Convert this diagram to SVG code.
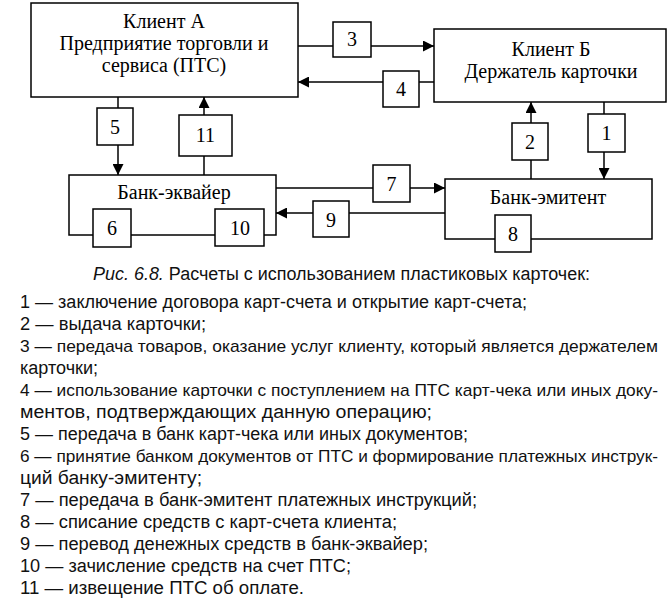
<svg xmlns="http://www.w3.org/2000/svg" width="671" height="600" viewBox="0 0 671 600">
<style>
.box{fill:#fff;stroke:#000;stroke-width:1.5}
.ln{fill:none;stroke:#000;stroke-width:1.5}
.arr{fill:none;stroke:#000;stroke-width:1.5;marker-end:url(#ah)}
.t{font-family:"Liberation Serif","Times New Roman",serif;font-size:20px;fill:#000;text-anchor:middle}
.n{font-family:"Liberation Serif","Times New Roman",serif;font-size:20px;fill:#000;text-anchor:middle}
.c{font-family:"Liberation Sans",Arial,sans-serif;font-size:18px;fill:#111}
.w{font-size:17px}
</style>
<defs>
<marker id="ah" viewBox="0 0 10 10" refX="10" refY="5" markerWidth="11" markerHeight="11" markerUnits="userSpaceOnUse" orient="auto">
<path d="M0,0 L10,5 L0,10 z" fill="#000"/>
</marker>
</defs>
<rect width="671" height="600" fill="#fff"/>

<g id="connectors">
<path class="ln" d="M298,46 H333"/>
<path class="arr" d="M371,46 H434"/>
<path class="ln" d="M434,82 H419"/>
<path class="arr" d="M383,82 H298"/>
<path class="ln" d="M118,97 V108"/>
<path class="arr" d="M118,145 V175"/>
<path class="ln" d="M204,175 V156"/>
<path class="arr" d="M204,115 V97"/>
<path class="ln" d="M276,188 H373"/>
<path class="arr" d="M410,188 H445"/>
<path class="ln" d="M445,213 H349"/>
<path class="arr" d="M313,213 H276"/>
<path class="ln" d="M531,179 V160"/>
<path class="arr" d="M531,123 V102"/>
<path class="ln" d="M604,102 V114"/>
<path class="arr" d="M604,152 V179"/>
</g>

<g id="clientA">
<rect class="box" x="31" y="3" width="267" height="94"/>
<text class="t" x="164" y="28">Клиент А</text>
<text class="t" x="164" y="50">Предприятие торговли и</text>
<text class="t" x="164" y="72">сервиса  (ПТС)</text>
</g>

<g id="clientB">
<rect class="box" x="434" y="29" width="232" height="73"/>
<text class="t" x="551" y="56">Клиент Б</text>
<text class="t" x="551" y="78">Держатель карточки</text>
</g>

<g id="bankAcq">
<rect class="box" x="69" y="175" width="207" height="60"/>
<text class="t" x="174" y="199">Банк-эквайер</text>
</g>

<g id="bankEm">
<rect class="box" x="445" y="179" width="207" height="60"/>
<text class="t" x="548" y="204">Банк-эмитент</text>
</g>

<g id="n1"><rect class="box" x="588" y="114" width="37" height="38"/><text class="n" x="606.5" y="140">1</text></g>
<g id="n2"><rect class="box" x="512" y="123" width="36" height="37"/><text class="n" x="530" y="149">2</text></g>
<g id="n3"><rect class="box" x="333" y="22" width="38" height="35"/><text class="n" x="352" y="46">3</text></g>
<g id="n4"><rect class="box" x="383" y="71" width="36" height="36"/><text class="n" x="401" y="96">4</text></g>
<g id="n5"><rect class="box" x="97" y="108" width="36" height="37"/><text class="n" x="115" y="134">5</text></g>
<g id="n6"><rect class="box" x="93" y="209" width="38" height="38"/><text class="n" x="112" y="235">6</text></g>
<g id="n7"><rect class="box" x="373" y="165" width="37" height="37"/><text class="n" x="391.5" y="191">7</text></g>
<g id="n8"><rect class="box" x="495" y="215" width="36" height="37"/><text class="n" x="513" y="241">8</text></g>
<g id="n9"><rect class="box" x="313" y="201" width="36" height="36"/><text class="n" x="331" y="227">9</text></g>
<g id="n10"><rect class="box" x="215" y="209" width="49" height="37"/><text class="n" x="240" y="235">10</text></g>
<g id="n11"><rect class="box" x="179" y="115" width="53" height="41"/><text class="n" x="205.5" y="142">11</text></g>

<g id="legend">
<text class="c" x="93" y="280" textLength="497" lengthAdjust="spacingAndGlyphs"><tspan font-style="italic">Рис. 6.8.</tspan> Расчеты с использованием пластиковых карточек:</text>
<text class="c" x="20" y="308" textLength="507" lengthAdjust="spacingAndGlyphs">1 — заключение договора карт-счета и открытие карт-счета;</text>
<text class="c" x="20" y="330" textLength="186" lengthAdjust="spacingAndGlyphs">2 — выдача карточки;</text>
<text class="c w" x="20" y="352" textLength="638" lengthAdjust="spacingAndGlyphs">3 — передача товаров, оказание услуг клиенту, который является держателем</text>
<text class="c" x="20" y="374" textLength="78" lengthAdjust="spacingAndGlyphs">карточки;</text>
<text class="c w" x="20" y="396" textLength="638" lengthAdjust="spacingAndGlyphs">4 — использование карточки с поступлением на ПТС карт-чека или иных доку-</text>
<text class="c" x="20" y="418" textLength="412" lengthAdjust="spacingAndGlyphs">ментов, подтверждающих данную операцию;</text>
<text class="c" x="20" y="440" textLength="448" lengthAdjust="spacingAndGlyphs">5 — передача в банк карт-чека или иных документов;</text>
<text class="c w" x="20" y="462" textLength="638" lengthAdjust="spacingAndGlyphs">6 — принятие банком документов от ПТС и формирование платежных инструк-</text>
<text class="c" x="20" y="484" textLength="182" lengthAdjust="spacingAndGlyphs">ций банку-эмитенту;</text>
<text class="c" x="20" y="506" textLength="457" lengthAdjust="spacingAndGlyphs">7 — передача в банк-эмитент платежных инструкций;</text>
<text class="c" x="20" y="528" textLength="377" lengthAdjust="spacingAndGlyphs">8 — списание средств с карт-счета клиента;</text>
<text class="c" x="20" y="550" textLength="408" lengthAdjust="spacingAndGlyphs">9 — перевод денежных средств в банк-эквайер;</text>
<text class="c" x="20" y="572" textLength="331" lengthAdjust="spacingAndGlyphs">10 — зачисление средств на счет ПТС;</text>
<text class="c" x="20" y="594" textLength="284" lengthAdjust="spacingAndGlyphs">11 — извещение ПТС об оплате.</text>
</g>
</svg>
